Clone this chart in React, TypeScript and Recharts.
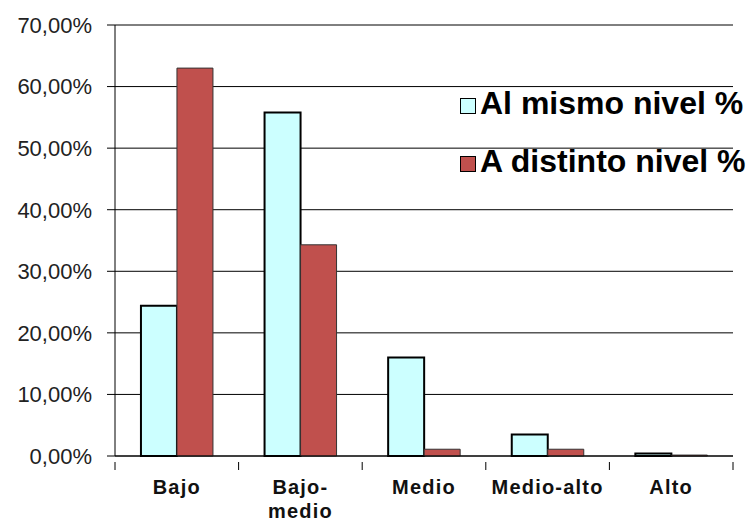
import { BarChart, Bar, XAxis, YAxis, CartesianGrid } from "recharts";

const categories = ["Bajo", "Bajo-medio", "Medio", "Medio-alto", "Alto"];
const mismoNivel = [24.4, 55.8, 16.0, 3.5, 0.4];
const distintoNivel = [63.0, 34.3, 1.1, 1.1, 0.15];
const yTicks = [0, 10, 20, 30, 40, 50, 60, 70];

const SERIES = [
  { key: "mismo", label: "Al mismo nivel %", fill: "#CCFFFF", stroke: "#000000", strokeWidth: 2 },
  { key: "distinto", label: "A distinto nivel %", fill: "#C0504D", stroke: "#333333", strokeWidth: 1 },
];

const data = categories.map((name, i) => ({
  name,
  mismo: mismoNivel[i],
  distinto: distintoNivel[i],
}));

const fmtPct = (v: number) => `${v.toFixed(2).replace(".", ",")}%`;

function CategoryTick(props: any) {
  const { x, y, payload, index, width, visibleTicksCount } = props;
  const band = (width || 618) / (visibleTicksCount || categories.length);
  const label: string = payload.value;
  const lines = label === "Bajo-medio" ? ["Bajo-", "medio"] : [label];
  return (
    <g>
      <line x1={x - band / 2} x2={x - band / 2} y1={y - 2} y2={y + 6} stroke="#000" />
      {index === categories.length - 1 && (
        <line x1={x + band / 2} x2={x + band / 2} y1={y - 2} y2={y + 6} stroke="#000" />
      )}
      <text
        x={x}
        y={y + 30}
        textAnchor="middle"
        fill="#111"
        style={{ fontFamily: "Liberation Sans, Arial, sans-serif", fontSize: 20, fontWeight: 700, letterSpacing: 1.2 }}
      >
        {lines.map((l, i) => (
          <tspan key={i} x={x} dy={i === 0 ? 0 : 24}>
            {l}
          </tspan>
        ))}
      </text>
    </g>
  );
}

function LegendBox() {
  return (
    <div
      style={{
        position: "absolute",
        left: 460,
        top: 74,
        fontFamily: "Liberation Sans, Arial, sans-serif",
        fontWeight: 700,
        fontSize: 32,
        color: "#000",
      }}
    >
      {SERIES.map((s) => (
        <div key={s.key} style={{ display: "flex", alignItems: "center", height: 58, whiteSpace: "nowrap" }}>
          <span
            style={{
              display: "inline-block",
              width: 14,
              height: 14,
              background: s.fill,
              border: "1.5px solid #000",
              marginRight: 4,
              marginTop: 6,
            }}
          />
          <span>{s.label}</span>
        </div>
      ))}
    </div>
  );
}

export default function App() {
  return (
    <div style={{ position: "absolute", left: 0, top: 0, width: 753, height: 521, background: "#fff" }}>
      <BarChart
        width={753}
        height={521}
        data={data}
        margin={{ top: 25, right: 20, bottom: 5, left: 0 }}
        barCategoryGap="21%"
        barGap={0}
      >
        <CartesianGrid vertical={false} stroke="#000" strokeWidth={1} />
        <XAxis
          dataKey="name"
          height={60}
          axisLine={{ stroke: "#000" }}
          tickLine={false}
          interval={0}
          tick={<CategoryTick />}
        />
        <YAxis
          width={115}
          domain={[0, 70]}
          ticks={yTicks}
          tickFormatter={fmtPct}
          axisLine={{ stroke: "#000" }}
          tickLine={{ stroke: "#000" }}
          tickSize={8}
          tickMargin={15}
          tick={{ fill: "#222", fontSize: 22, fontFamily: "Liberation Sans, Arial, sans-serif" }}
          interval={0}
        />
        {SERIES.map((s) => (
          <Bar
            key={s.key}
            dataKey={s.key}
            name={s.label}
            fill={s.fill}
            stroke={s.stroke}
            strokeWidth={s.strokeWidth}
            isAnimationActive={false}
          />
        ))}
      </BarChart>
      <LegendBox />
    </div>
  );
}
